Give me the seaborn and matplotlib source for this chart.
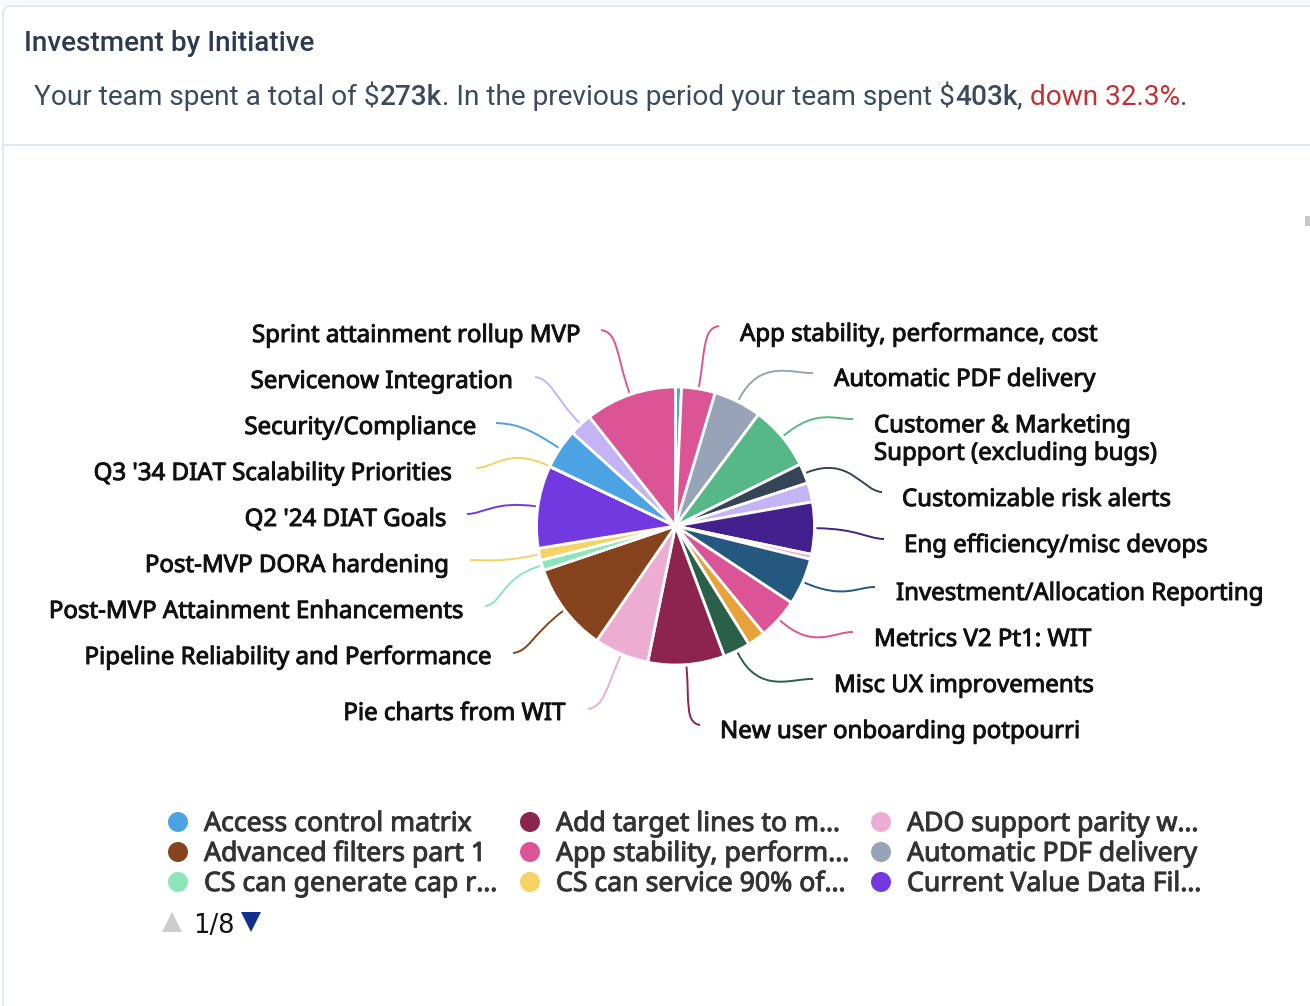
import matplotlib
matplotlib.use("Agg")
import numpy as np
import pandas as pd
import seaborn as sns
import matplotlib.pyplot as plt
import matplotlib.patheffects as pe
from matplotlib.path import Path
from matplotlib.patches import PathPatch, Polygon, FancyBboxPatch

# spend per initiative in $k, clockwise from 12 o'clock ("" = slice without a label)
slice_names = [
    "", "App stability, performance, cost", "Automatic PDF delivery",
    "Customer & Marketing\nSupport (excluding bugs)", "Customizable risk alerts",
    "", "Eng efficiency/misc devops", "",
    "Investment/Allocation Reporting", "Metrics V2 Pt1: WIT", "",
    "Misc UX improvements", "New user onboarding potpourri", "Pie charts from WIT",
    "Pipeline Reliability and Performance", "Post-MVP Attainment Enhancements",
    "Post-MVP DORA hardening", "Q2 '24 DIAT Goals", "Q3 '34 DIAT Scalability Priorities",
    "Security/Compliance", "Servicenow Integration", "Sprint attainment rollup MVP",
]
slice_values = [1.9, 10.7, 15.2, 20.5, 6.3, 6.1, 16.5, 1.6, 14.9, 13.0, 5.7, 8.6, 24.3,
                17.4, 28.0, 3.3, 3.8, 26.2, 0.1, 12.7, 7.3, 29.0]
slice_colors = ["#4BA3E3", "#DB5596", "#97A3B6", "#56B886", "#374357", "#C3B5F5", "#44208E",
                "#EDADD2", "#25587F", "#DB5596", "#E8A23A", "#2A5F49", "#8C244F", "#EDADD2",
                "#84431D", "#8DE5BA", "#F4D264", "#7239E0", "#F4D264", "#4BA3E3", "#C3B5F5", "#DB5596"]

legend_names = ["Access control matrix", "Advanced filters part 1", "CS can generate cap r…",
                "Add target lines to m…", "App stability, perform…", "CS can service 90% of…",
                "ADO support parity w…", "Automatic PDF delivery", "Current Value Data Fil…"]
legend_colors = ["#4BA3E3", "#84431D", "#8DE5BA", "#8C244F", "#DB5596", "#F4D264",
                 "#EDADD2", "#97A3B6", "#7239E0"]

# label placement in pixels: text x, text y, leader end x, leader end y
label_layout = {
    "App stability, performance, cost": (740, 333, 719, 326),
    "Automatic PDF delivery": (834, 378, 813, 373),
    "Customer & Marketing\nSupport (excluding bugs)": (874, 438, 853, 419),
    "Customizable risk alerts": (902, 498, 882, 492),
    "Eng efficiency/misc devops": (904, 544, 884, 539),
    "Investment/Allocation Reporting": (896, 592, 875, 587),
    "Metrics V2 Pt1: WIT": (874, 638, 853, 632),
    "Misc UX improvements": (834, 684, 813, 679),
    "New user onboarding potpourri": (720, 730, 700, 725),
    "Pie charts from WIT": (566, 712, 588, 709),
    "Pipeline Reliability and Performance": (493, 656, 513, 653),
    "Post-MVP Attainment Enhancements": (464, 610, 485, 606),
    "Post-MVP DORA hardening": (450, 564, 470, 560),
    "Q2 '24 DIAT Goals": (447, 518, 467, 514),
    "Q3 '34 DIAT Scalability Priorities": (453, 472, 476, 468),
    "Security/Compliance": (477, 426, 496, 423),
    "Servicenow Integration": (514, 380, 535, 377),
    "Sprint attainment rollup MVP": (581, 334, 601, 330),
}

W, H = 1310, 1006
cx, cy, r = 675.5, 526, 139

sns.set_theme(style="white")
plt.rcParams["font.family"] = ["Noto Sans", "DejaVu Sans"]

fig = plt.figure(figsize=(W / 100, H / 100), dpi=100, facecolor="white")
page = fig.add_axes([0, 0, 1, 1])
page.set_xlim(0, W)
page.set_ylim(H, 0)
page.axis("off")

# card frame
page.add_patch(plt.Rectangle((0, 0), W, 6, color="#F7F9FC", lw=0))
page.add_patch(FancyBboxPatch((3, 6), W + 40, H + 40, boxstyle="round,pad=0,rounding_size=8",
                              fc="white", ec="#E2E8F0", lw=1.5))
page.plot([3, W], [145, 145], color="#E2E8F0", lw=1.5)
page.add_patch(plt.Rectangle((1305, 216), 5, 10, color="#C8C8C8", lw=0))

page.text(24, 51, "Investment by Initiative", fontsize=20.1, family="Roboto", weight="medium",
          color="#2D3B50", va="baseline")

# subtitle pieces sit one after another
renderer = fig.canvas.get_renderer()
x_now = 34
for part, color, weight in [("Your team spent a total of $", "#3C4A5E", "normal"),
                            ("273k", "#3C4A5E", "medium"),
                            (". In the previous period your team spent $", "#3C4A5E", "normal"),
                            ("403k", "#3C4A5E", "medium"),
                            (", ", "#3C4A5E", "normal"),
                            ("down 32.3%", "#C53030", "normal"),
                            (".", "#3C4A5E", "normal")]:
    t = page.text(x_now, 105, part, fontsize=20.2, family="Roboto", weight=weight, color=color, va="baseline")
    # spaces at the end are not counted in the extent, so measure with a guard character
    t.set_text(part + "|")
    w_guard = t.get_window_extent(renderer).width
    t.set_text("|")
    w_bar = t.get_window_extent(renderer).width
    t.set_text(part)
    x_now += w_guard - w_bar

# pie in its own square axes, placed in pixels
pie_ax = fig.add_axes([(cx - r) / W, 1 - (cy + r) / H, 2 * r / W, 2 * r / H])
wedges, _ = pie_ax.pie(slice_values, colors=slice_colors, startangle=90, counterclock=False, radius=1,
                       wedgeprops={"edgecolor": "white", "linewidth": 2})
pie_ax.set_xlim(-1, 1)
pie_ax.set_ylim(-1, 1)

# Noto Sans only comes in regular here, so a thin stroke thickens it
heavy = [pe.withStroke(linewidth=0.7, foreground="#111111")]
heavy_legend = [pe.withStroke(linewidth=0.7, foreground="#333333")]

# labels and leader lines
for name, wedge, color in zip(slice_names, wedges, slice_colors):
    if not name:
        continue
    tx, ty, ex, ey = label_layout[name]
    mid = np.deg2rad((wedge.theta1 + wedge.theta2) / 2)
    ux, uy = np.cos(mid), -np.sin(mid)
    sx, sy = cx + (r + 2) * ux, cy + (r + 2) * uy
    dist = np.hypot(ex - sx, ey - sy)
    side = 1 if ex > cx else -1
    c1 = (sx + ux * dist * 0.6, sy + uy * dist * 0.6)
    c2 = (ex - side * dist * 0.25, ey + (sy - ey) * 0.04)
    path = Path([(sx, sy), c1, c2, (ex, ey)], [Path.MOVETO, Path.CURVE4, Path.CURVE4, Path.CURVE4])
    page.add_patch(PathPatch(path, fc="none", ec=color, lw=1.4))
    page.text(tx, ty + 2, name, fontsize=17.3, color="#111111", va="center",
              ha="left" if side > 0 else "right", linespacing=1.2, path_effects=heavy)

# legend dots through seaborn, three rows per column
legend_df = pd.DataFrame({
    "name": legend_names,
    "col": np.repeat([178, 530, 881], 3),
    "row": np.tile([822, 852, 882], 3),
})
sns.scatterplot(data=legend_df, x="col", y="row", hue="name", palette=legend_colors, s=207,
                linewidth=0, legend=False, ax=page)
page.set_xlim(0, W)
page.set_ylim(H, 0)
page.axis("off")
for _, row in legend_df.iterrows():
    page.text(row["col"] + 26, row["row"] + 2, row["name"], fontsize=19.2, color="#333333",
              va="center", path_effects=heavy_legend)

# pager
page.add_patch(Polygon([(162, 932), (182, 932), (172, 912)], color="#CCCCCC", lw=0))
page.add_patch(Polygon([(241, 912), (261, 912), (251, 932)], color="#12308F", lw=0))
page.text(193, 926, "1/8", fontsize=18.5, color="#111111", va="center", family="DejaVu Sans")

fig.savefig("out.png", dpi=100, facecolor="white")
plt.close(fig)
